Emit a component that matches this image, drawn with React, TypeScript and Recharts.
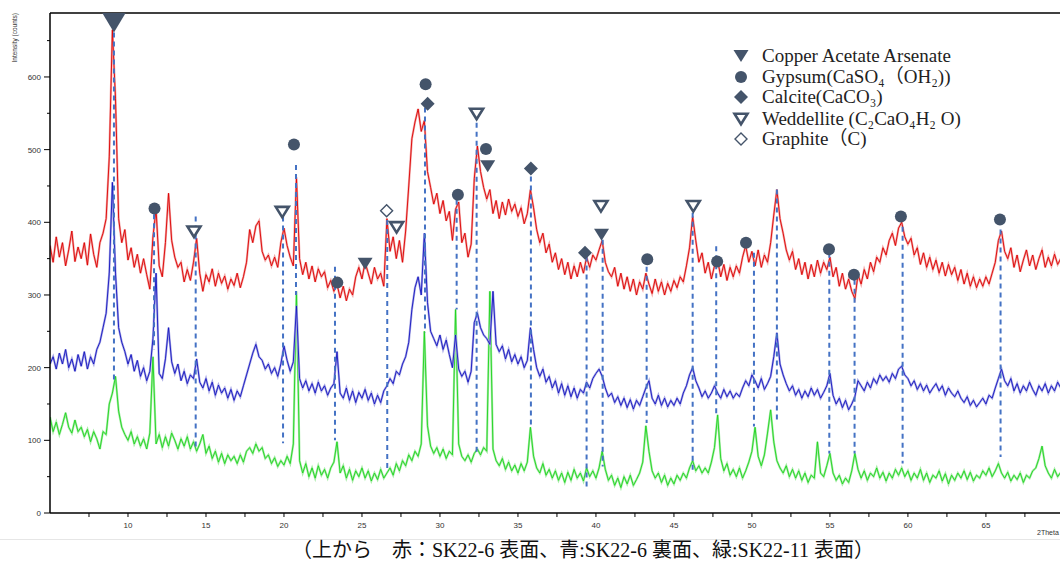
import { ComposedChart, Line, Scatter, XAxis, YAxis, ReferenceLine } from 'recharts';

// 2θ grid: 5.0 … 69.8, step 0.2
const THETA_START = 5;
const THETA_STEP = 0.2;

// 赤: SK22-6 表面
const RED = [
  368, 345, 380, 352, 372, 340, 362, 388, 346, 366,
  350, 372, 341, 384, 356, 338, 372, 385, 405, 490,
  665, 570, 405, 372, 390, 348, 365, 338, 356, 330,
  350, 328, 308, 380, 418, 340, 325, 372, 440, 375,
  352, 338, 345, 318, 335, 320, 345, 378, 330, 305,
  328, 318, 336, 312, 330, 316, 326, 308, 322, 313,
  330, 310, 325, 345, 390, 372, 395, 402, 360, 348,
  355, 340, 352, 338, 372, 392, 368, 352, 340, 462,
  350, 328, 345, 322, 340, 318, 336, 325, 332, 310,
  320, 305, 315, 296, 312, 292, 308, 300, 325, 338,
  322, 345, 330, 315, 338, 322, 330, 312, 405, 360,
  380, 350, 375, 345, 388, 450, 515, 538, 556, 525,
  540, 470, 448, 425, 440, 412, 430, 402, 415, 375,
  418, 428, 372, 385, 352, 370, 460, 505, 470, 448,
  432, 445, 412, 430, 405, 428, 410, 432, 415, 425,
  408, 420, 398, 412, 445, 420, 390, 372, 385, 358,
  370, 345, 358, 335, 350, 328, 345, 322, 340, 325,
  345, 330, 352, 338, 355, 348, 362, 375, 345, 332,
  325, 338, 312, 330, 308, 325, 305, 322, 300, 318,
  308, 330, 315, 302, 322, 305, 318, 300, 316, 305,
  320, 310, 325, 318, 340, 365, 408, 375, 345, 358,
  330, 345, 322, 340, 348, 325, 342, 320, 338, 325,
  340, 330, 352, 368, 345, 360, 340, 362, 338, 355,
  345, 372, 410, 445, 405, 385, 362, 348, 360, 335,
  350, 328, 345, 322, 342, 325, 348, 330, 345, 335,
  352, 325, 338, 312, 330, 308, 322, 305, 295, 328,
  315, 335, 322, 345, 332, 352, 345, 365, 355, 375,
  385, 368, 392, 400, 380, 370, 378, 355, 365, 342,
  358, 338, 352, 335, 348, 330, 345, 326, 342, 328,
  338, 320, 335, 315, 330, 312, 325, 310, 322, 312,
  325, 315, 330, 345, 375, 388, 360, 350, 365, 338,
  355, 332, 348, 362, 340, 355, 335, 350, 362, 338,
  352, 340, 356, 342, 350,
];

// 青: SK22-6 裏面
const BLUE = [
  205, 215, 198, 220, 205, 225, 200, 212, 195, 218,
  202, 222, 198, 215, 205, 225, 235, 255, 275, 330,
  455, 330, 255, 235, 222, 205, 218, 195, 210, 188,
  200, 182, 195, 240, 330, 192, 185, 212, 255, 208,
  192, 205, 182, 195, 178, 190, 185, 212, 180, 172,
  185, 168, 180, 162, 176, 165, 172, 158, 170, 155,
  168, 160, 175, 190, 205, 220, 232, 215, 210, 198,
  205, 192, 200, 188, 205, 230, 210, 195, 208, 285,
  185, 172, 182, 168, 178, 165, 180, 168, 175, 162,
  172, 178, 222, 165, 158, 172, 155, 168, 152, 166,
  158, 170, 155, 165, 150, 162, 152, 168, 175, 185,
  178, 195, 190, 205, 215, 235, 280, 310, 325, 300,
  385, 290, 250, 240, 230, 245, 225, 238, 218, 200,
  245, 198, 188, 195, 180, 195, 262, 275, 255, 245,
  240, 232, 305, 232, 222, 230, 212, 225, 208, 218,
  205, 215, 200, 210, 255, 225, 200, 188, 198, 180,
  188, 172, 182, 165, 178, 162, 175, 160, 172, 158,
  170, 165, 180, 172, 185, 192, 198, 188, 172, 160,
  165, 152, 160, 148, 158, 145, 156, 143, 155, 148,
  160, 172, 182, 158, 150, 162, 148, 158, 146, 155,
  148, 158, 150, 165, 175, 190, 200, 182, 172, 160,
  168, 158, 165, 175, 165, 158, 170, 160, 168, 158,
  165, 160, 172, 182, 175, 190, 182, 172, 185, 170,
  178, 188, 215, 248, 205, 190, 178, 168, 175, 162,
  170, 158, 168, 160, 172, 162, 170, 158, 166, 175,
  192, 162, 150, 158, 145, 155, 142, 150, 160, 182,
  175, 168, 180, 172, 185, 178, 190, 182, 188, 180,
  192, 185, 198, 202, 190, 185, 175, 182, 170, 178,
  168, 176, 165, 172, 178, 168, 175, 162, 172, 165,
  160, 168, 158, 152, 160, 148, 155, 146, 152, 158,
  150, 162, 158, 172, 185, 198, 182, 175, 185, 168,
  178, 165, 175, 168, 180, 170, 162, 175, 168, 178,
  165, 175, 168, 180, 172,
];

// 緑: SK22-11 表面
const GREEN = [
  132, 112, 125, 108, 122, 138, 118, 110, 128, 112,
  118, 105, 115, 98, 112, 102, 88, 112, 108, 150,
  165, 188, 140, 118, 108, 100, 112, 95, 105, 92,
  102, 88, 110, 215, 95, 108, 90, 105, 92, 110,
  100, 88, 102, 92, 105, 88, 98, 85, 95, 108,
  82, 92, 75, 85, 70, 82, 68, 80, 72, 78,
  68, 80, 70, 85, 90, 82, 95, 85, 90, 75,
  80, 68, 76, 64, 72, 66, 78, 68, 95, 305,
  72, 55, 68, 50, 62, 48, 65, 52, 60, 48,
  62, 70, 98, 55, 65, 48, 60, 45, 58, 50,
  62, 48, 58, 44, 55, 46, 60, 48, 55, 62,
  52, 68, 58, 72, 65, 80, 72, 85, 78, 95,
  250, 120, 92, 82, 90, 78, 88, 75, 85, 80,
  280, 95, 78, 72, 80, 70, 82, 88, 80, 90,
  85, 305, 88, 72, 65, 75, 60, 70, 58, 66,
  55, 68, 58, 70, 118, 78, 62, 55, 68, 52,
  60, 48, 58, 45, 55, 42, 56, 45, 60, 48,
  55, 44, 62, 50, 58, 48, 62, 85, 60, 45,
  52, 38, 48, 35, 50, 40, 52, 38, 46, 55,
  70, 120, 85, 58, 48, 55, 42, 52, 38, 48,
  40, 52, 45, 55, 48, 62, 72, 58, 65, 55,
  62, 55, 70, 90, 135, 75, 58, 68, 52, 60,
  50, 62, 48, 58, 70, 85, 118, 78, 65, 80,
  110, 142, 98, 72, 62, 55, 65, 50, 60, 48,
  58, 45, 55, 42, 52, 48, 98, 55, 50, 65,
  82, 55, 45, 52, 40, 48, 42, 58, 82, 60,
  48, 58, 45, 55, 50, 62, 48, 56, 44, 55,
  48, 60, 52, 62, 50, 58, 45, 55, 48, 60,
  45, 55, 42, 52, 48, 58, 44, 54, 40, 52,
  45, 55, 48, 58, 46, 56, 44, 52, 48, 58,
  52, 62, 50, 58, 68, 55, 48, 56, 44, 52,
  46, 55, 42, 52, 48, 58, 62, 75, 92, 65,
  55, 48, 60, 50, 56,
];

// peak reference lines (2θ, top, bottom in counts)
const PEAK_X = [9.1, 11.67, 14.34, 19.94, 20.77, 23.27, 26.62, 29.04, 31.07, 32.35, 35.83,
  39.4, 40.43, 43.25, 46.2, 47.71, 50.13, 51.6, 54.96, 56.58, 59.66, 65.94];
const PEAK_TOP = [661, 411, 408, 408, 479, 339, 403, 558, 431, 537, 463,
  353, 376, 339, 413, 367, 358, 445, 358, 321, 394, 390];
const PEAK_BOTTOM = [183, 225, 87, 96, 300, 100, 59, 248, 280, 83, 119,
  36, 64, 124, 59, 137, 119, 128, 82, 82, 68, 77];

// phase markers
const COPPER_X = [9.1, 25.2, 33.06, 40.36];
const COPPER_V = [675, 343, 477, 383];
const GYPSUM_X = [11.7, 20.64, 23.42, 29.08, 31.15, 32.95, 43.29, 47.77, 49.62, 54.94, 56.54, 59.55, 65.9];
const GYPSUM_V = [419, 507, 317, 590, 438, 501, 349, 346, 372, 363, 328, 408, 404];
const CALCITE_X = [29.21, 35.83, 39.3];
const CALCITE_V = [563, 474, 358];
const WEDDELLITE_X = [14.23, 19.89, 27.22, 32.35, 40.32, 46.24];
const WEDDELLITE_V = [387, 414, 393, 549, 422, 422];
const GRAPHITE_X = [26.58];
const GRAPHITE_V = [416];

const X_TICKS = [7.5, 10, 12.5, 15, 17.5, 20, 22.5, 25, 27.5, 30, 32.5, 35, 37.5, 40, 42.5, 45,
  47.5, 50, 52.5, 55, 57.5, 60, 62.5, 65, 67.5];
const Y_TICKS = [0, 50, 100, 150, 200, 250, 300, 350, 400, 450, 500, 550, 600, 650];

const LEGEND = [
  { kind: 'copper', label: 'Copper Acetate Arsenate' },
  { kind: 'gypsum', label: 'Gypsum(CaSO₄（OH₂))' },
  { kind: 'calcite', label: 'Calcite(CaCO₃)' },
  { kind: 'weddellite', label: 'Weddellite (C₂CaO₄H₂ O)' },
  { kind: 'graphite', label: 'Graphite（C)' },
];

const MARK = '#44546a';
const DASH = '#4472c4';
const SANS = '"Liberation Sans", Arial, sans-serif';
const SERIF = '"Liberation Serif", "DejaVu Serif", "Noto Sans CJK JP", serif';

const data = RED.map((r, i) => ({
  t: +(THETA_START + i * THETA_STEP).toFixed(1),
  red: r,
  blue: BLUE[i],
  green: GREEN[i],
}));

const pts = (xs: number[], vs: number[]) => xs.map((t, i) => ({ t, v: vs[i] }));

function MarkerShape({ kind, cx, cy, big }: { kind: string; cx: number; cy: number; big?: boolean }) {
  if (kind === 'copper') {
    const w = big ? 24 : 15;
    const h = big ? 20 : 12;
    return <polygon points={`${cx - w / 2},${cy - h / 2} ${cx + w / 2},${cy - h / 2} ${cx},${cy + h / 2}`} fill={MARK} />;
  }
  if (kind === 'weddellite') {
    const w = 13, h = 10.5;
    return (
      <polygon
        points={`${cx - w / 2},${cy - h / 2} ${cx + w / 2},${cy - h / 2} ${cx},${cy + h / 2}`}
        fill="#fff" stroke={MARK} strokeWidth={2.6}
      />
    );
  }
  if (kind === 'gypsum') return <circle cx={cx} cy={cy} r={6} fill={MARK} />;
  const d = 7;
  const p = `${cx},${cy - d} ${cx + d},${cy} ${cx},${cy + d} ${cx - d},${cy}`;
  if (kind === 'calcite') return <polygon points={p} fill={MARK} />;
  const g = 6;
  return <polygon points={`${cx},${cy - g} ${cx + g},${cy} ${cx},${cy + g} ${cx - g},${cy}`} fill="#fff" stroke={MARK} strokeWidth={1.4} />;
}

const shapeFor = (kind: string) => (props: any) =>
  <MarkerShape kind={kind} cx={props.cx} cy={props.cy} big={kind === 'copper' && props.payload.v > 600} />;

function XTick({ x, y, payload }: any) {
  const major = payload.value % 5 === 0;
  return (
    <g>
      <line x1={x} x2={x} y1={y} y2={y + 4} stroke="#000" strokeWidth={1} />
      {major && (
        <text x={x} y={y + 15} textAnchor="middle" fontSize={8} fill="#333" fontFamily={SANS}>
          {payload.value}
        </text>
      )}
    </g>
  );
}

function YTick({ x, y, payload }: any) {
  const major = payload.value % 100 === 0;
  return (
    <g>
      <line x1={x - (major ? 6 : 3)} x2={x} y1={y} y2={y} stroke="#000" strokeWidth={1} />
      {major && (
        <text x={x - 9} y={y + 3} textAnchor="end" fontSize={8} fill="#333" fontFamily={SANS}>
          {payload.value}
        </text>
      )}
    </g>
  );
}

export default function App() {
  return (
    <div style={{ position: 'absolute', left: 0, top: 0, width: 1060, height: 562, background: '#fff', overflow: 'hidden' }}>
      <ComposedChart width={1060} height={562} data={data} margin={{ top: 13, right: 0, bottom: 29, left: 0 }}>
        <XAxis
          type="number" dataKey="t" domain={[5, 69.75]} allowDataOverflow ticks={X_TICKS}
          tick={<XTick />} tickLine={false} tickSize={0} tickMargin={0} height={20}
          axisLine={{ stroke: '#000', strokeWidth: 1.5 }} interval={0}
        />
        <YAxis
          type="number" domain={[0, 688]} allowDataOverflow ticks={Y_TICKS} width={50}
          tick={<YTick />} tickLine={false} tickSize={0} tickMargin={0}
          axisLine={{ stroke: '#000', strokeWidth: 1.5 }} interval={0}
        />
        <ReferenceLine y={688} stroke="#000" strokeWidth={1.5} />

        <Line dataKey="green" stroke="#a8eca8" strokeWidth={2.2} dot={false} isAnimationActive={false} />
        <Line dataKey="green" stroke="#1ed41e" strokeWidth={0.9} dot={false} isAnimationActive={false} />
        <Line dataKey="blue" stroke="#aaaae6" strokeWidth={2.2} dot={false} isAnimationActive={false} />
        <Line dataKey="blue" stroke="#1414c0" strokeWidth={0.9} dot={false} isAnimationActive={false} />
        <Line dataKey="red" stroke="#f2a8a8" strokeWidth={2.2} dot={false} isAnimationActive={false} />
        <Line dataKey="red" stroke="#dc0000" strokeWidth={0.9} dot={false} isAnimationActive={false} />

        {PEAK_X.map((t, i) => (
          <ReferenceLine
            key={`pk-${i}`}
            segment={[{ x: t, y: PEAK_TOP[i] }, { x: t, y: PEAK_BOTTOM[i] }]}
            stroke={DASH} strokeWidth={2} strokeDasharray="5 4"
          />
        ))}

        <Scatter data={pts(COPPER_X, COPPER_V)} dataKey="v" shape={shapeFor('copper')} isAnimationActive={false} />
        <Scatter data={pts(GYPSUM_X, GYPSUM_V)} dataKey="v" shape={shapeFor('gypsum')} isAnimationActive={false} />
        <Scatter data={pts(CALCITE_X, CALCITE_V)} dataKey="v" shape={shapeFor('calcite')} isAnimationActive={false} />
        <Scatter data={pts(WEDDELLITE_X, WEDDELLITE_V)} dataKey="v" shape={shapeFor('weddellite')} isAnimationActive={false} />
        <Scatter data={pts(GRAPHITE_X, GRAPHITE_V)} dataKey="v" shape={shapeFor('graphite')} isAnimationActive={false} />
      </ComposedChart>

      <svg width={1060} height={562} style={{ position: 'absolute', left: 0, top: 0, pointerEvents: 'none' }}>
        <text transform="translate(17,13) rotate(-90)" textAnchor="end" fontSize={6.5} fill="#333" fontFamily={SANS}>
          Intensity (counts)
        </text>
        <text x={1037} y={535} fontSize={7} fill="#333" fontFamily={SANS}>2Theta</text>

        {LEGEND.map((row, i) => {
          const cy = [56, 77, 97, 119, 139][i];
          return (
            <g key={row.kind}>
              <MarkerShape kind={row.kind} cx={741} cy={cy} />
              <text x={762} y={cy + 6} fontSize={19} fill="#222" fontFamily={SERIF}>{row.label}</text>
            </g>
          );
        })}

        <line x1={0} x2={1060} y1={539.5} y2={539.5} stroke="#e6e6e6" strokeWidth={1} />
        <text x={583} y={557} textAnchor="middle" fontSize={20} fill="#111" fontFamily={SERIF}>
          （上から　赤：SK22-6 表面、青:SK22-6 裏面、緑:SK22-11 表面）
        </text>
      </svg>
    </div>
  );
}
